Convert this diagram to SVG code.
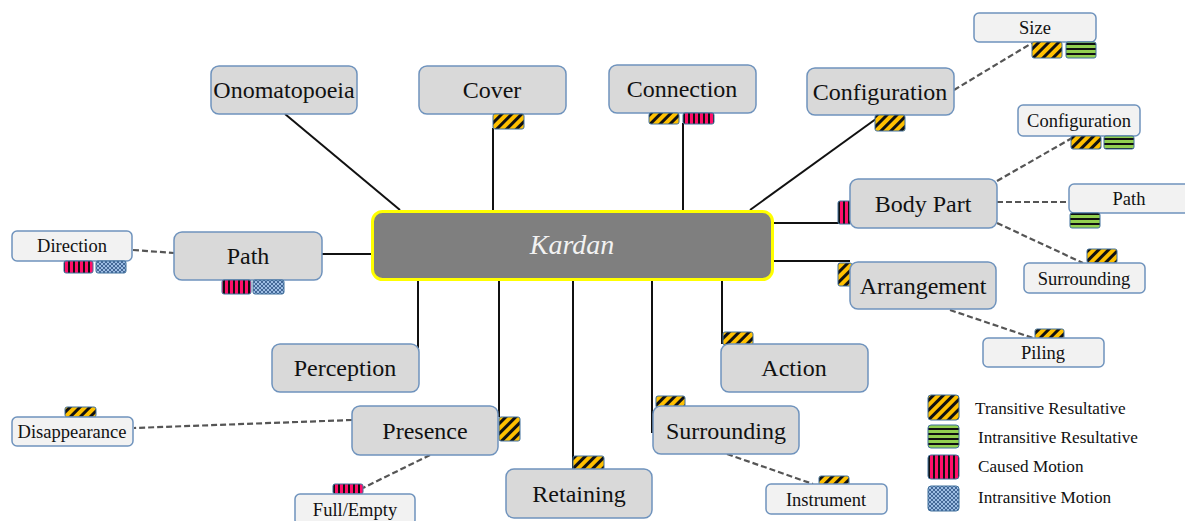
<svg xmlns="http://www.w3.org/2000/svg" width="1185" height="521" viewBox="0 0 1185 521">
<style>
.main .nb{fill:#d9d9d9;stroke:#6f93bd;stroke-width:1.5}
.small .nb{fill:#f2f2f2;stroke:#6f93bd;stroke-width:1.5}
.main text{font-family:"Liberation Serif",serif;font-size:24px;fill:#111;text-anchor:middle}
.small text{font-family:"Liberation Serif",serif;font-size:18.5px;fill:#111;text-anchor:middle}
.solid{stroke:#111;stroke-width:2;fill:none}
.dash{stroke:#555;stroke-width:2.2;fill:none;stroke-dasharray:6 3}
.b{stroke:#41719c;stroke-width:1}
.b.tr{fill:url(#ptr)}
.b.ir{fill:url(#pir)}
.b.cm{fill:url(#pcm)}
.b.im{fill:url(#pim)}
.leg text{font-family:"Liberation Serif",serif;font-size:17.2px;fill:#111}
</style>
<defs>
<pattern id="ptr" width="7" height="7" patternUnits="userSpaceOnUse" patternTransform="rotate(45)">
<rect width="7" height="7" fill="#ffc000"/><rect width="3" height="7" fill="#111"/>
</pattern>
<pattern id="pir" width="6" height="5" patternUnits="userSpaceOnUse">
<rect width="6" height="5" fill="#92d050"/><rect y="3" width="6" height="2" fill="#111"/>
</pattern>
<pattern id="pcm" width="5" height="6" patternUnits="userSpaceOnUse">
<rect width="5" height="6" fill="#ff0f6a"/><rect x="3" width="2" height="6" fill="#111"/>
</pattern>
<pattern id="pim" width="4" height="4" patternUnits="userSpaceOnUse">
<rect width="4" height="4" fill="#9dbde3"/><path d="M0,0L4,4M4,0L0,4" stroke="#3a5f8f" stroke-width="0.9"/>
</pattern>
</defs>
<rect width="1185" height="521" fill="#fff"/>
<g id="connectors">
<line class="solid" x1="285" y1="114" x2="400" y2="210"/>
<line class="solid" x1="493" y1="128" x2="493" y2="211"/>
<line class="solid" x1="683" y1="123" x2="683" y2="211"/>
<line class="solid" x1="880" y1="116" x2="750" y2="210"/>
<line class="solid" x1="322" y1="254" x2="372" y2="254"/>
<line class="solid" x1="773" y1="223" x2="840" y2="223"/>
<line class="solid" x1="773" y1="261" x2="850" y2="261"/>
<line class="solid" x1="418" y1="281" x2="418" y2="348"/>
<line class="solid" x1="499" y1="281" x2="499" y2="417"/>
<line class="solid" x1="573" y1="281" x2="573" y2="469"/>
<line class="solid" x1="652" y1="281" x2="652" y2="433"/>
<line class="solid" x1="722" y1="281" x2="722" y2="344"/>
<line class="dash" x1="954" y1="90" x2="1032" y2="43"/>
<line class="dash" x1="997" y1="181" x2="1072" y2="138"/>
<line class="dash" x1="997" y1="202" x2="1069" y2="202"/>
<line class="dash" x1="997" y1="223" x2="1083" y2="263"/>
<line class="dash" x1="950" y1="310" x2="1033" y2="338"/>
<line class="dash" x1="727" y1="454" x2="813" y2="484"/>
<line class="dash" x1="430" y1="455" x2="363" y2="488"/>
<line class="dash" x1="352" y1="420" x2="134" y2="428"/>
<line class="dash" x1="133" y1="250" x2="174" y2="253"/>
</g>
<g id="kardan">
<rect x="372.5" y="211.5" width="400" height="68" rx="10" fill="#7f7f7f" stroke="#ffff00" stroke-width="3"/>
<text x="572" y="254" font-family="'Liberation Serif',serif" font-style="italic" font-size="28" fill="#f2f2f2" text-anchor="middle">Kardan</text>
</g>
<g id="onomatopoeia" class="main"><rect class="nb" x="211" y="66" width="146" height="48" rx="8"/><text x="284" y="98">Onomatopoeia</text></g>
<g id="cover" class="main"><rect class="nb" x="419" y="66" width="147" height="48" rx="8"/><text x="492" y="98">Cover</text>
<rect class="b tr" x="493" y="114" width="31" height="15" rx="2"/></g>
<g id="connection" class="main"><rect class="nb" x="609" y="65" width="147" height="48" rx="8"/><text x="682" y="97">Connection</text>
<rect class="b tr" x="649" y="113" width="30" height="11" rx="2"/><rect class="b cm" x="683" y="113" width="31" height="11" rx="2"/></g>
<g id="configuration" class="main"><rect class="nb" x="807" y="68" width="147" height="47" rx="8"/><text x="880" y="100">Configuration</text>
<rect class="b tr" x="875" y="115" width="30" height="16" rx="2"/></g>
<g id="path" class="main"><rect class="nb" x="174" y="232" width="148" height="48" rx="8"/><text x="248" y="264">Path</text>
<rect class="b cm" x="222" y="280" width="29" height="14" rx="2"/><rect class="b im" x="253" y="280" width="31" height="14" rx="2"/></g>
<g id="bodypart" class="main"><rect class="b cm" x="838" y="201" width="14" height="23" rx="2"/><rect class="nb" x="850" y="179" width="147" height="49" rx="8"/><text x="923" y="212">Body Part</text></g>
<g id="arrangement" class="main"><rect class="b tr" x="838" y="263" width="14" height="23" rx="2"/><rect class="nb" x="850" y="262" width="146" height="47" rx="8"/><text x="923" y="294">Arrangement</text></g>
<g id="action" class="main"><rect class="b tr" x="723" y="332" width="30" height="13" rx="2"/><rect class="nb" x="721" y="344" width="147" height="48" rx="8"/><text x="794" y="376">Action</text></g>
<g id="perception" class="main"><rect class="nb" x="272" y="344" width="147" height="48" rx="8"/><text x="345" y="376">Perception</text></g>
<g id="presence" class="main"><rect class="b tr" x="499" y="417" width="21" height="24" rx="2"/><rect class="nb" x="352" y="406" width="146" height="49" rx="8"/><text x="425" y="439">Presence</text></g>
<g id="retaining" class="main"><rect class="b tr" x="573" y="456" width="31" height="14" rx="2"/><rect class="nb" x="506" y="469" width="146" height="49" rx="8"/><text x="579" y="502">Retaining</text></g>
<g id="surrounding" class="main"><rect class="b tr" x="656" y="396" width="29" height="12" rx="2"/><rect class="nb" x="653" y="406" width="146" height="48" rx="8"/><text x="726" y="439">Surrounding</text></g>
<g id="size" class="small"><rect class="nb" x="974" y="13" width="122" height="29" rx="5"/><text x="1035" y="34">Size</text>
<rect class="b tr" x="1032" y="42" width="30" height="16" rx="2"/><rect class="b ir" x="1066" y="42" width="30" height="16" rx="2"/></g>
<g id="configuration-small" class="small"><rect class="nb" x="1018" y="105" width="122" height="31" rx="5"/><text x="1079" y="127">Configuration</text>
<rect class="b tr" x="1071" y="136" width="30" height="13" rx="2"/><rect class="b ir" x="1104" y="136" width="30" height="13" rx="2"/></g>
<g id="path-small" class="small"><rect class="nb" x="1069" y="184" width="122" height="29" rx="5"/><text x="1129" y="205">Path</text>
<rect class="b ir" x="1070" y="213" width="30" height="15" rx="2"/></g>
<g id="surrounding-small" class="small"><rect class="b tr" x="1087" y="249" width="30" height="14" rx="2"/><rect class="nb" x="1024" y="263" width="121" height="30" rx="5"/><text x="1084" y="285">Surrounding</text></g>
<g id="piling" class="small"><rect class="b tr" x="1035" y="329" width="29" height="10" rx="2"/><rect class="nb" x="983" y="338" width="121" height="29" rx="5"/><text x="1043" y="359">Piling</text></g>
<g id="instrument" class="small"><rect class="b tr" x="819" y="476" width="30" height="9" rx="2"/><rect class="nb" x="766" y="484" width="121" height="30" rx="5"/><text x="826" y="506">Instrument</text></g>
<g id="fullempty" class="small"><rect class="b cm" x="333" y="484" width="30" height="10" rx="2"/><rect class="nb" x="295" y="494" width="120" height="31" rx="5"/><text x="355" y="516">Full/Empty</text></g>
<g id="disappearance" class="small"><rect class="b tr" x="65" y="407" width="31" height="10" rx="2"/><rect class="nb" x="12" y="417" width="121" height="29" rx="5"/><text x="72" y="438">Disappearance</text></g>
<g id="direction" class="small"><rect class="nb" x="12" y="231" width="120" height="30" rx="5"/><text x="72" y="252">Direction</text>
<rect class="b cm" x="64" y="261" width="29" height="12" rx="2"/><rect class="b im" x="96" y="261" width="30" height="12" rx="2"/></g>
<g id="legend" class="leg">
<rect class="b tr" x="928" y="395" width="31" height="25" rx="3"/><text x="975" y="414">Transitive Resultative</text>
<rect class="b ir" x="928" y="425" width="31" height="23" rx="3"/><text x="978" y="443">Intransitive Resultative</text>
<rect class="b cm" x="928" y="455" width="31" height="24" rx="3"/><text x="978" y="472">Caused Motion</text>
<rect class="b im" x="928" y="486" width="31" height="25" rx="3"/><text x="978" y="503">Intransitive Motion</text>
</g>
</svg>
